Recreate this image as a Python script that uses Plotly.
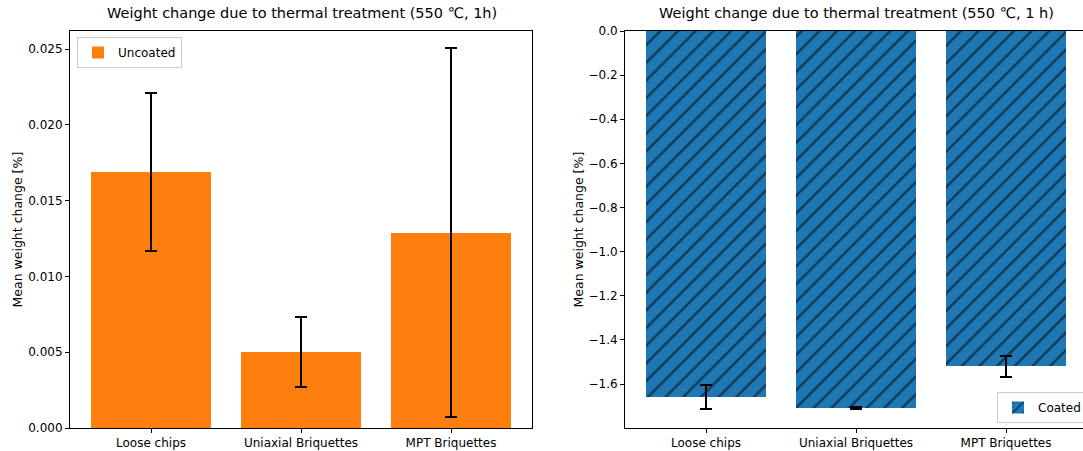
import plotly.graph_objects as go

categories = ["Loose chips", "Uniaxial Briquettes", "MPT Briquettes"]
uncoated_mean = [0.0169, 0.0050, 0.0129]
uncoated_err = [0.0052, 0.0023, 0.0122]
coated_mean = [-1.658, -1.708, -1.520]
coated_err = [0.054, 0.003, 0.047]

title_left = "Weight change due to thermal treatment (550 ℃, 1h)"
title_right = "Weight change due to thermal treatment (550 ℃, 1 h)"
ylabel = "Mean weight change [%]"

W, H = 1083, 451
FONT = "DejaVu Sans"
pos = [0, 1, 2]

fig = go.Figure()
fig.add_trace(go.Bar(
    x=pos, y=uncoated_mean, width=0.8, name="Uncoated",
    marker=dict(color="#ff7f0e", line=dict(width=0)),
    error_y=dict(type="data", array=uncoated_err, color="black", thickness=2, width=6),
    xaxis="x", yaxis="y", legend="legend",
))
fig.add_trace(go.Bar(
    x=pos, y=coated_mean, width=0.8, name="Coated",
    marker=dict(color="#1f77b4", line=dict(width=0),
                pattern=dict(shape="/", fgcolor="black", bgcolor="#1f77b4",
                             size=12.5, solidity=0.2, fillmode="overlay")),
    error_y=dict(type="data", array=coated_err, color="black", thickness=2, width=6),
    xaxis="x2", yaxis="y2", legend="legend2",
))

ml, mr, mt, mb = 0, 0, 31, 23
pw = W - ml - mr
ph = H - mt - mb

def px(x):
    return x / pw

axis_common = dict(showline=True, linecolor="black", linewidth=1, mirror=True,
                   ticks="outside", ticklen=4, tickcolor="black", tickwidth=1,
                   showgrid=False, zeroline=False, automargin=False,
                   tickfont=dict(family=FONT, size=12, color="black"))

fig.update_layout(
    width=W, height=H,
    margin=dict(l=ml, r=mr, t=mt, b=mb, autoexpand=False),
    paper_bgcolor="white", plot_bgcolor="white",
    font=dict(family=FONT, size=12, color="black"),
    bargap=0,
    xaxis=dict(domain=[px(70), px(532)], range=[-0.54, 2.54],
               tickvals=pos, ticktext=categories, anchor="y", **axis_common),
    yaxis=dict(domain=[0, 1], range=[0, 0.0262], tickvals=[0, 0.005, 0.01, 0.015, 0.02, 0.025],
               tickformat=".3f", anchor="x", **axis_common),
    xaxis2=dict(domain=[px(625), 1.0], range=[-0.54, 2.513],
                tickvals=pos, ticktext=categories, anchor="y2", **axis_common),
    yaxis2=dict(domain=[0, 1], range=[-1.799, 0],
                tickvals=[-1.6, -1.4, -1.2, -1.0, -0.8, -0.6, -0.4, -0.2, 0.0],
                tickformat=".1f", anchor="x2", **axis_common),
    showlegend=True,
    legend=dict(x=px(77), y=(H - mb - 37) / ph, xanchor="left", yanchor="top",
                bgcolor="rgba(255,255,255,0.8)", bordercolor="#cccccc", borderwidth=1,
                font=dict(family=FONT, size=12), itemwidth=30),
    legend2=dict(x=px(997), y=(H - mb - 423) / ph, xanchor="left", yanchor="bottom",
                 bgcolor="rgba(255,255,255,0.8)", bordercolor="#cccccc", borderwidth=1,
                 font=dict(family=FONT, size=12), itemwidth=30),
    annotations=[
        dict(text=title_left, x=px(302), y=1 + 18 / ph, xref="paper", yref="paper",
             showarrow=False, xanchor="center", yanchor="middle",
             font=dict(family=FONT, size=14.5, color="black")),
        dict(text=title_right, x=px(856), y=1 + 18 / ph, xref="paper", yref="paper",
             showarrow=False, xanchor="center", yanchor="middle",
             font=dict(family=FONT, size=14.5, color="black")),
        dict(text=ylabel, x=px(17), y=0.5, xref="paper", yref="paper", textangle=-90,
             showarrow=False, xanchor="center", yanchor="middle",
             font=dict(family=FONT, size=12.5, color="black")),
        dict(text=ylabel, x=px(578), y=0.5, xref="paper", yref="paper", textangle=-90,
             showarrow=False, xanchor="center", yanchor="middle",
             font=dict(family=FONT, size=12.5, color="black")),
    ],
)

fig.write_html("out.html", config={"displayModeBar": False},
               post_script="document.body.style.margin='0';document.body.style.overflow='hidden';")
